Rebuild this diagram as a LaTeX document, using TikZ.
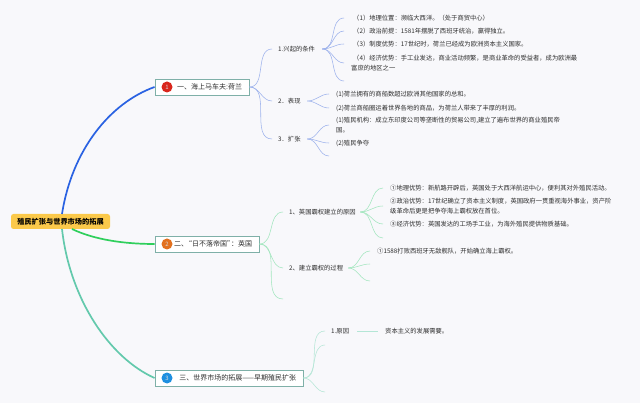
\documentclass[tikz,border=0pt]{standalone}
\usepackage{fontspec}
\setmainfont{Noto Sans CJK SC}
\usetikzlibrary{positioning}
\definecolor{pagebg}{HTML}{F8F8FB}
\definecolor{rootcol}{HTML}{FBC94A}
\definecolor{boxline}{HTML}{7FB0A8}
\definecolor{bluemain}{HTML}{2A62E2}
\definecolor{greenmain}{HTML}{2FCF5C}
\definecolor{tealmain}{HTML}{63C9AC}
\definecolor{bluethin}{HTML}{9DB2EC}
\definecolor{greenthin}{HTML}{A2E6BE}
\definecolor{tealthin}{HTML}{B4E6D6}
\definecolor{num1col}{HTML}{D9261C}
\definecolor{num2col}{HTML}{E2701E}
\definecolor{num3col}{HTML}{1E8FE0}
\definecolor{inkcol}{HTML}{2E2E2E}

\begin{document}
\begin{tikzpicture}[
  x=1pt, y=-1pt,
  root/.style   = {fill=rootcol, rounded corners=2.5pt, minimum width=99pt, minimum height=15pt, inner sep=0pt, font=\fontsize{7.2}{9}\selectfont\bfseries},
  topic/.style  = {draw=boxline, line width=0.9pt, fill=white, minimum height=16pt, inner xsep=7pt, inner ysep=0pt, align=right, text=inkcol, font=\fontsize{7}{9}\selectfont},
  num/.style    = {circle, minimum size=11pt, inner sep=0pt, text=white!85!black, font=\fontsize{6}{7}\selectfont},
  head/.style   = {anchor=west, inner xsep=6pt, inner ysep=0pt, align=left, text=inkcol, font=\fontsize{6.3}{9.3}\selectfont},
  leaf/.style   = {anchor=west, inner xsep=7pt, inner ysep=0pt, align=left, text=inkcol, font=\fontsize{6.3}{9.3}\selectfont},
  main/.style   = {line width=1.7pt},
  twig/.style   = {line width=0.55pt, out=0, in=180}
]
\useasboundingbox (0,0) rectangle (640,403);
\fill[pagebg] (0,0) rectangle (640,403);

% ================= main branches =================
\node[root] (rootbox) at (60.5,221.5) {殖民扩张与世界市场的拓展};
\node[topic, text width=80pt]  (holland) at (202,87)  {一、海上马车夫:荷兰};
\node[topic, text width=90pt]  (england) at (207,244) {二、\hspace{-3pt}“日不落帝国”\hspace{-3pt}：英国};
\node[topic, text width=134pt] (market)  at (229,378) {三、世界市场的拓展——早期殖民扩张};
\node[num, fill=num1col] (num1) at (167,87)  {1};
\node[num, fill=num2col] (num2) at (167,244) {2};
\node[num, fill=num3col] (num3) at (167,378) {3};

\coordinate (roota) at (62,214);
\coordinate (rootb) at (72,229);
\coordinate (rootc) at (62,229);
\draw[main, bluemain]  (roota) .. controls (72,150) and (110,103) .. (holland.west);
\draw[main, greenmain] (rootb) .. controls (95,240) and (125,244) .. (england.west);
\draw[main, tealmain]  (rootc) .. controls (70,300) and (110,358) .. (market.west);

% ================= Holland =================
\node[head, text width=38pt] (rise) at (272,49)  {1.兴起的条件};
\node[head, text width=23pt] (show) at (272,101) {2．表现};
\node[head, text width=23pt] (grow) at (272,139) {3．扩张};
\foreach \t in {rise,show,grow}
  \draw[twig, bluethin] (holland.east) to (\t.west);

\node[leaf, inner xsep=9pt] (r1) at (344,18) {（1）地理位置：濒临大西洋。（处于商贸中心）};
\node[leaf, inner xsep=9pt] (r2) at (344,31) {（2）政治前提：1581年摆脱了西班牙统治，赢得独立。};
\node[leaf, inner xsep=9pt] (r3) at (344,44) {（3）制度优势：17世纪时，荷兰已经成为欧洲资本主义国家。};
\node[leaf] (r4) at (344,63) {\hspace{2pt}（4）经济优势：手工业发达，商业活动频繁，是商业革命的受益者，成为欧洲最\\富庶的地区之一};
\coordinate (r5) at (344,81);
\foreach \t in {r1,r2,r3,r4,r5}
  \draw[twig, bluethin] (rise.east) to (\t);

\node[leaf] (s1) at (329,94)  {(1)荷兰拥有的商船数超过欧洲其他国家的总和。};
\node[leaf] (s2) at (329,108) {(2)荷兰商船圈运着世界各地的商品，为荷兰人带来了丰厚的利润。};
\foreach \t in {s1,s2}
  \draw[twig, bluethin] (show.east) to (\t);

\node[leaf] (g1) at (329,125) {(1)殖民机构：成立东印度公司等垄断性的贸易公司,建立了遍布世界的商业殖民帝\\国。};
\node[leaf] (g2) at (329,143) {(2)殖民争夺};
\coordinate (g3) at (329,156);
\foreach \t in {g1,g2,g3}
  \draw[twig, bluethin] (grow.east) to (\t);

% ================= England =================
\node[head, text width=65pt] (cause) at (283,212) {1、英国霸权建立的原因};
\node[head, text width=53pt] (build) at (283,268) {2、建立霸权的过程};
\coordinate (e3) at (283,299);
\foreach \t in {cause,build,e3}
  \draw[twig, greenthin] (england.east) to (\t);

\node[leaf] (c1) at (383,188) {①地理优势：新航路开辟后，英国处于大西洋航运中心，便利其对外殖民活动。};
\node[leaf] (c2) at (383,206) {②政治优势：17世纪确立了资本主义制度，英国政府一贯重视海外事业，资产阶\\级革命后更是把争夺海上霸权放在首位。};
\node[leaf] (c3) at (383,224) {③经济优势：英国发达的工场手工业，为海外殖民提供物质基础。};
\coordinate (c4) at (383,238);
\foreach \t in {c1,c2,c3,c4}
  \draw[twig, greenthin] (cause.east) to (\t);

\node[leaf] (b1) at (370,251) {①1588打败西班牙无敌舰队，开始确立海上霸权。};
\coordinate (b2) at (370,264);
\coordinate (b3) at (370,281);
\foreach \t in {b1,b2,b3}
  \draw[twig, greenthin] (build.east) to (\t);

% ================= Market =================
\node[head, text width=20pt] (why) at (325,331) {1.原因};
\coordinate (m2) at (325,345);
\coordinate (m3) at (325,392);
\foreach \t in {why,m2,m3}
  \draw[twig, tealthin] (market.east) to (\t);

\node[leaf] (need) at (378,331) {资本主义的发展需要。};
\draw[twig, tealthin] (why.east) -- (need.west);

\end{tikzpicture}
\end{document}
